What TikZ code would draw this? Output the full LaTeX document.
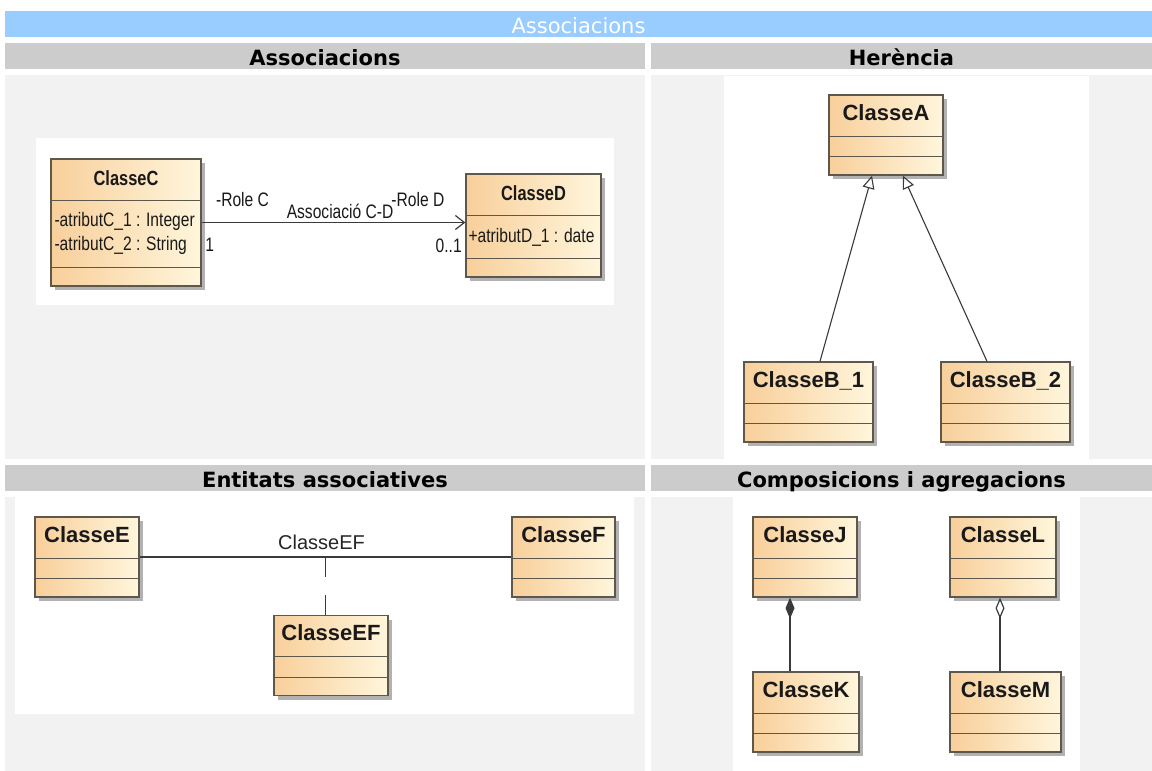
\documentclass[tikz,border=0pt]{standalone}
\usepackage{fontspec}
\usepackage{tikz}
\usetikzlibrary{arrows.meta,calc,positioning,shadows}
\newfontfamily\headfont{DejaVu Sans}
\newfontfamily\umlfont{Liberation Sans}
\newfontfamily\umlnarrow[FakeStretch=0.8]{Liberation Sans}
\definecolor{PanelBlue}{HTML}{99CCFF}
\definecolor{PanelHead}{HTML}{CCCCCC}
\definecolor{PanelCell}{HTML}{F2F2F2}
\definecolor{UmlPeach}{HTML}{F8CF9B}
\definecolor{UmlCream}{HTML}{FFF6DC}
\definecolor{UmlEdge}{HTML}{5E574C}
\definecolor{UmlInk}{HTML}{3A3A3A}
\tikzset{
  >={Straight Barb[length=9pt,width=14pt]},
  titletext/.style={font=\headfont\fontsize{21}{24}\selectfont,text=white,anchor=base,inner sep=0pt},
  headtext/.style={font=\headfont\bfseries\fontsize{21}{24}\selectfont,anchor=base,inner sep=0pt},
  classcut/.style={draw=UmlEdge,line width=1.1pt},
  classbox/.style={draw=UmlEdge,line width=1.3pt,left color=UmlPeach,right color=UmlCream,
    inner sep=0pt,minimum height=80pt,
    drop shadow={shadow xshift=4pt,shadow yshift=-4pt,fill=black!55,opacity=.55},
    append after command={
      ([yshift=-42pt]\tikzlastnode.north west) edge[classcut] ([yshift=-42pt]\tikzlastnode.north east)
      ([yshift=19pt]\tikzlastnode.south west) edge[classcut] ([yshift=19pt]\tikzlastnode.south east)}},
  classname/.style={font=\umlfont\bfseries\fontsize{22}{26}\selectfont,anchor=base,inner sep=0pt,text=black!90},
  narrowname/.style={font=\umlnarrow\bfseries\fontsize{20.5}{24}\selectfont,anchor=base,inner sep=0pt,text=black!90},
  attrtext/.style={font=\umlnarrow\fontsize{19.5}{24}\selectfont,anchor=base west,inner sep=0pt,text=black!90},
  rolelabel/.style={font=\umlnarrow\fontsize{19.5}{24}\selectfont,inner sep=0pt,text=black!90},
  linklabel/.style={font=\umlfont\fontsize{20}{24}\selectfont,inner sep=0pt,text=black!85},
  assoc/.style={draw=UmlInk,line width=1.2pt},
  inherit/.style={draw=UmlInk,line width=1.1pt,-{Triangle[fill=white,length=13pt,width=12pt]}},
  linkdash/.style={draw=UmlInk,line width=1.2pt,dash pattern=on 20pt off 18pt},
  composite/.style={draw=UmlInk,line width=1.2pt,{Diamond[fill=UmlInk,length=21pt,width=9pt]}-},
  aggregate/.style={draw=UmlInk,line width=1.2pt,{Diamond[fill=white,length=21pt,width=9pt]}-}
}

\begin{document}
\begin{tikzpicture}[x=1pt,y=-1pt]
  \useasboundingbox (0,0) rectangle (1152,771);
  % table frame
  \fill[PanelBlue] (5,11) rectangle (1152,37);
  \node[titletext] (title) at (578.5,33) {Associacions};
  \fill[PanelHead] (5,43) rectangle (645,69);
  \fill[PanelHead] (651,43) rectangle (1152,69);
  \fill[PanelCell] (5,75) rectangle (645,459);
  \fill[PanelCell] (651,75) rectangle (1152,459);
  \fill[PanelHead] (5,465) rectangle (645,491);
  \fill[PanelHead] (651,465) rectangle (1152,491);
  \fill[PanelCell] (5,497) rectangle (645,771);
  \fill[PanelCell] (651,497) rectangle (1152,771);
  \node[headtext] (h-assoc) at (325,65) {Associacions};
  \node[headtext] (h-inherit) at (901.5,65) {Herència};
  \node[headtext] (h-entity) at (325,487) {Entitats associatives};
  \node[headtext] (h-compose) at (901.5,487) {Composicions i agregacions};
  % white canvases of the four diagrams
  \fill[white] (36,138) rectangle (614,305);
  \fill[white] (724,76) rectangle (1089,459);
  \fill[white] (15,497) rectangle (634,714);
  \fill[white] (733,497) rectangle (1080,771);

  % associations
  \node[classbox,minimum width=150pt,minimum height=127pt] (C) at (126,222.5) {};
  \node[narrowname] (C-name) at ([yshift=-27pt]C.north) {ClasseC};
  \node[attrtext] (C-attr1) at ([xshift=4pt,yshift=-68pt]C.north west) {-atributC\_1 : Integer};
  \node[attrtext] (C-attr2) at ([xshift=4pt,yshift=-92pt]C.north west) {-atributC\_2 : String};
  \node[classbox,minimum width=135pt,minimum height=103pt] (D) at (533.5,225.5) {};
  \node[narrowname] (D-name) at ([yshift=-27pt]D.north) {ClasseD};
  \node[attrtext] (D-attr1) at ([xshift=3pt,yshift=-69pt]D.north west) {+atributD\_1 : date};
  \draw[assoc,->] (C.east) -- (C.east -| D.west)
    node[rolelabel,pos=.155,above=15pt] (role-c) {-Role C}
    node[rolelabel,pos=.525,above=3pt] (assoc-cd) {Associació C-D}
    node[rolelabel,pos=.82,above=15pt] (role-d) {-Role D}
    node[rolelabel,pos=0,below right=15pt and 3pt] (mult-c) {1}
    node[rolelabel,pos=1,below left=16pt and 3pt] (mult-d) {0..1};

  % inheritance
  \node[classbox,minimum width=114pt] (A) at (886,135) {};
  \node[classname] (A-name) at ([yshift=-26pt]A.north) {ClasseA};
  \node[classbox,minimum width=129pt] (B1) at (808.5,402) {};
  \node[classname] (B1-name) at ([yshift=-26pt]B1.north) {ClasseB\_1};
  \node[classbox,minimum width=129pt] (B2) at (1005.5,402) {};
  \node[classname] (B2-name) at ([yshift=-26pt]B2.north) {ClasseB\_2};
  \draw[inherit] ([xshift=11.5pt]B1.north) -- ([xshift=-14pt]A.south);
  \draw[inherit] ([xshift=-18.5pt]B2.north) -- ([xshift=17pt]A.south);

  % associative entity
  \node[classbox,minimum width=104pt] (E) at (87,557) {};
  \node[classname] (E-name) at ([yshift=-26pt]E.north) {ClasseE};
  \node[classbox,minimum width=103pt] (F) at (563.5,557) {};
  \node[classname] (F-name) at ([yshift=-26pt]F.north) {ClasseF};
  \node[classbox,minimum width=114pt] (EF) at (331,655.5) {};
  \node[classname] (EF-name) at ([yshift=-26pt]EF.north) {ClasseEF};
  \draw[assoc] (E.east) -- (F.west)
    coordinate[midway] (ef-join)
    node[linklabel,midway,above=7pt,xshift=-4pt] (ef-label) {ClasseEF};
  \draw[linkdash] (ef-join) -- (ef-join |- EF.north);

  % composition and aggregation
  \node[classbox,minimum width=104pt] (J) at (805,557) {};
  \node[classname] (J-name) at ([yshift=-26pt]J.north) {ClasseJ};
  \node[classbox,minimum width=106pt] (K) at (806,712) {};
  \node[classname] (K-name) at ([yshift=-26pt]K.north) {ClasseK};
  \node[classbox,minimum width=106pt] (L) at (1003,557) {};
  \node[classname] (L-name) at ([yshift=-26pt]L.north) {ClasseL};
  \node[classbox,minimum width=111pt] (M) at (1005.5,712) {};
  \node[classname] (M-name) at ([yshift=-26pt]M.north) {ClasseM};
  \draw[composite] ([xshift=-15pt]J.south) -- ([xshift=-15pt]J.south |- K.north);
  \draw[aggregate] ([xshift=-3pt]L.south) -- ([xshift=-3pt]L.south |- M.north);
\end{tikzpicture}
\end{document}
